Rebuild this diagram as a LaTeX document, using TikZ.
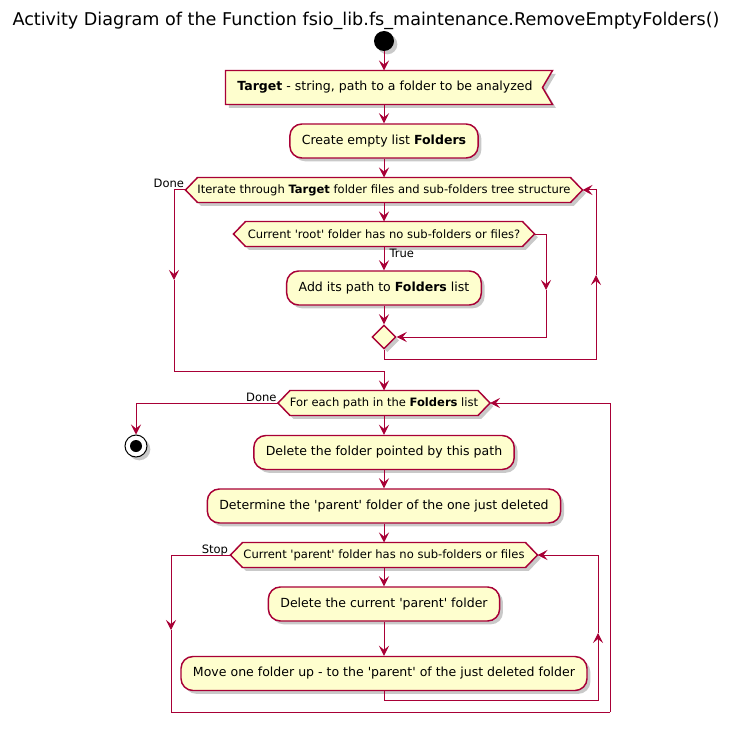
\documentclass[tikz,border=0pt]{standalone}
\usepackage{fontspec}
\setmainfont{DejaVu Sans}[Ligatures=TeXOff]
\usetikzlibrary{arrows.meta,shapes.geometric,shadows,calc,backgrounds}

\definecolor{umlred}{HTML}{A80036}
\definecolor{umlfill}{HTML}{FEFECE}

\tikzset{every picture/.style={line width=0.75pt}}
\tikzset{
  umlshadow/.style={drop shadow={shadow xshift=2.5pt,shadow yshift=-2.5pt,opacity=0.3,fill=black!70}},
  outline/.style={draw=umlred,fill=umlfill,line width=1.1pt,umlshadow},
  act/.style={outline,rounded corners=9pt,minimum height=25.5pt,
    inner xsep=9pt,inner ysep=0pt,font=\fontsize{9.4}{11}\selectfont},
  flagtext/.style={minimum height=24.75pt,inner sep=0pt,font=\fontsize{9.4}{11}\selectfont},
  condtext/.style={minimum height=18pt,inner sep=0pt,font=\fontsize{8.65}{10}\selectfont},
  merge/.style={diamond,outline,minimum width=18pt,minimum height=18pt,inner sep=0pt},
  lbl/.style={font=\fontsize{8.65}{10}\selectfont,inner sep=0pt},
  flow/.style={draw=umlred,-{Stealth[length=7.5pt,width=7.5pt,inset=3pt]}},
  line/.style={draw=umlred}
}

\begin{document}
\begin{tikzpicture}[x=0.75pt,y=0.75pt,yscale=-1,xscale=1]
\useasboundingbox (0,0) rectangle (733,745);

% Title
\node (title) at (366,21) {\fontsize{13.2}{15}\selectfont Activity Diagram of the Function fsio\_lib.fs\_maintenance.RemoveEmptyFolders()};

% Start / stop
\node (start) [circle,fill=black,minimum size=15pt,inner sep=0pt,umlshadow] at (384,41) {};
\node (stop) [circle,draw=black,fill=white,minimum size=16.5pt,inner sep=0pt,umlshadow,
  path picture={\fill[black] (path picture bounding box.center) circle (4.5pt);}] at (136,446) {};

% Actions
\node (tgt) [flagtext,minimum width=244.5pt] at (389,87.5) {\textbf{Target} - string, path to a folder to be analyzed\hspace*{6pt}};
\node (create) [act,minimum width=141pt] at (384,141) {Create empty list \textbf{Folders}};
\node (d1) [condtext,minimum width=297pt] at (384,190) {Iterate through \textbf{Target} folder files and sub-folders tree structure};
\node (d2) [condtext,minimum width=225pt] at (384,234) {Current 'root' folder has no sub-folders or files?};
\node (add) [act,minimum width=144pt] at (384,288) {Add its path to \textbf{Folders} list};
\node (mrg) [merge] at (384,337) {};
\node (d3) [condtext,minimum width=158.25pt] at (384,403) {For each path in the \textbf{Folders} list};
\node (del) [act,minimum width=193.5pt] at (384,452.5) {Delete the folder pointed by this path};
\node (det) [act,minimum width=262.5pt] at (384,506) {Determine the 'parent' folder of the one just deleted};
\node (d4) [condtext,minimum width=229.5pt] at (384,555) {Current 'parent' folder has no sub-folders or files};
\node (delp) [act,minimum width=171.75pt] at (384,604) {Delete the current 'parent' folder};
\node (move) [act,minimum width=302.25pt] at (384,673.5) {Move one folder up - to the 'parent' of the just deleted folder};

% Flag and hexagon outlines behind the texts
\begin{scope}[on background layer]
\path[outline] (tgt.north west) -- (tgt.north east) -- ($(tgt.east)+(-10,0)$) -- (tgt.south east) -- (tgt.south west) -- cycle;
\foreach \n in {d1,d2,d3,d4}
  \path[outline] (\n.west) -- ($(\n.north west)+(12,0)$) -- ($(\n.north east)+(-12,0)$) -- (\n.east)
    -- ($(\n.south east)+(-12,0)$) -- ($(\n.south west)+(12,0)$) -- cycle;
\end{scope}

% Branch labels
\node (lbldone1) [lbl,anchor=base east] at ($(d1.west)+(-1,-2)$) {Done};
\node (lbltrue) [lbl,anchor=base west] at ($(d2.south)+(5,11)$) {True};
\node (lbldone2) [lbl,anchor=base east] at ($(d3.west)+(-1,-2)$) {Done};
\node (lblstop) [lbl,anchor=base east] at ($(d4.west)+(-2,-2)$) {Stop};

% Bend points
\coordinate (doneA) at (174,280);
\coordinate (j1) at (384,371);
\coordinate (falseA) at (546,290);
\coordinate (back1) at (596,359);
\coordinate (back1up) at (596,275);
\coordinate (stopA) at (171,630);
\coordinate (outer) at (610,712);
\coordinate (back2) at (598,700);
\coordinate (back2up) at (598,633);

% Straight flow
\draw[flow] (start) -- (start |- tgt.north);
\draw[flow] (start |- tgt.south) -- (create);
\draw[flow] (create) -- (d1);
\draw[flow] (d1) -- (d2);
\draw[flow] (d2) -- (add);
\draw[flow] (add) -- (mrg);
\draw[flow] (j1) -- (d3);
\draw[flow] (d3) -- (del);
\draw[flow] (del) -- (det);
\draw[flow] (det) -- (d4);
\draw[flow] (d4) -- (delp);
\draw[flow] (delp) -- (move);

% First loop
\draw[flow] (d1.west) -| (doneA);
\draw[line] (doneA) |- (j1);
\draw[flow] (d2.east) -| (falseA);
\draw[flow] (falseA) |- (mrg.east);
\draw[flow] (mrg.south) |- (back1) -- (back1up);
\draw[flow] (back1up) |- (d1.east);

% Second loop
\draw[flow] (d3.west) -| (stop.north);
\draw[flow] (d4.west) -| (stopA);
\draw[line] (stopA) |- (outer);
\draw[flow] (outer) |- (d3.east);
\draw[flow] (move.south) |- (back2) -- (back2up);
\draw[flow] (back2up) |- (d4.east);

\end{tikzpicture}
\end{document}
